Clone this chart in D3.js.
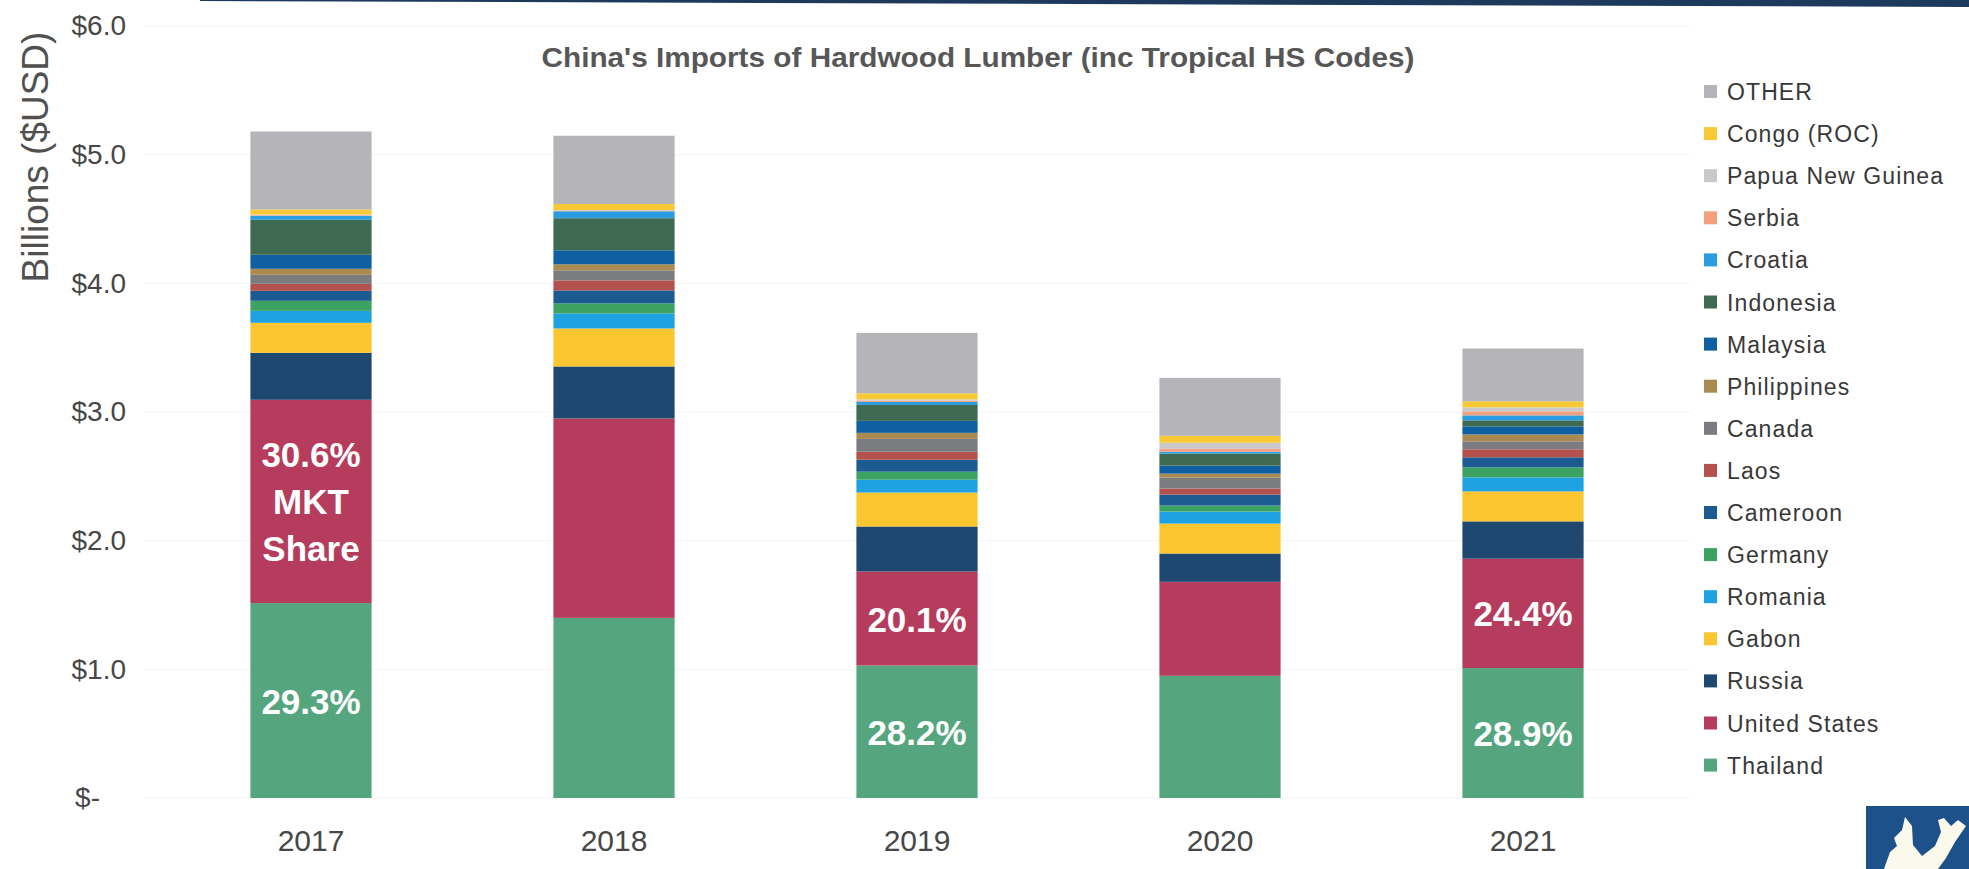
<!DOCTYPE html>
<html lang="en">
  <head>
    <meta charset="utf-8">
    <title>China's Imports of Hardwood Lumber</title>
    <script src="https://d3js.org/d3.v7.min.js"></script>
    <style>
      body { margin: 0; background: #fff; }
      svg { display: block; font-family: "Liberation Sans", Arial, sans-serif; }
    </style>
  </head>
  <body>
    <script>
      // data (billions USD)
      const years = ["2017", "2018", "2019", "2020", "2021"];
      const countries = ["Thailand", "United States", "Russia", "Gabon", "Romania", "Germany",
        "Cameroon", "Laos", "Canada", "Philippines", "Malaysia", "Indonesia", "Croatia",
        "Serbia", "Papua New Guinea", "Congo (ROC)", "OTHER"];

      const thailand    = [1.515, 1.40, 1.03, 0.95, 1.01];
      const unitedStates = [1.58, 1.55, 0.73, 0.73, 0.85];
      const russia      = [0.365, 0.404, 0.35, 0.22, 0.29];
      const gabon       = [0.233, 0.295, 0.264, 0.233, 0.233];
      const romania     = [0.093, 0.117, 0.10, 0.093, 0.109];
      const germany     = [0.078, 0.078, 0.062, 0.047, 0.078];
      const cameroon    = [0.078, 0.101, 0.093, 0.085, 0.078];
      const laos        = [0.054, 0.078, 0.062, 0.047, 0.062];
      const canada      = [0.07, 0.078, 0.10, 0.085, 0.062];
      const philippines = [0.047, 0.047, 0.047, 0.031, 0.054];
      const malaysia    = [0.109, 0.109, 0.093, 0.062, 0.062];
      const indonesia   = [0.272, 0.249, 0.124, 0.093, 0.047];
      const croatia     = [0.031, 0.054, 0.023, 0.015, 0.039];
      const serbia      = [0.005, 0.005, 0.01, 0.023, 0.031];
      const png         = [0.005, 0.005, 0.01, 0.047, 0.031];
      const congo       = [0.039, 0.047, 0.047, 0.054, 0.047];
      const other       = [0.606, 0.53, 0.47, 0.45, 0.41];

      const series = [thailand, unitedStates, russia, gabon, romania, germany, cameroon, laos,
        canada, philippines, malaysia, indonesia, croatia, serbia, png, congo, other];

      const colors = ["#55a67e", "#b53c5c", "#1f4870", "#fcc630", "#1ea2e2", "#3ba262",
        "#1c5a92", "#b4514c", "#7b7c80", "#aa8a50", "#0f60a2", "#3d6a50", "#2a9ce0",
        "#f4a07c", "#c9c9cb", "#f8c935", "#b5b5b9"];

      const usLabels = ["30.6%|MKT|Share", "", "20.1%", "", "24.4%"];
      const thLabels = ["29.3%", "", "28.2%", "", "28.9%"];

      const yTicks = [0, 1, 2, 3, 4, 5, 6];

      const width = 1969, height = 869;

      const rows = years.map((yr, i) => {
        const r = { year: yr };
        countries.forEach((c, k) => r[c] = series[k][i]);
        return r;
      });

      const svg = d3.select("body").append("svg")
          .attr("width", width)
          .attr("height", height);

      // scanned page header band
      svg.append("path")
          .attr("d", "M200,0 L1969,0 L1969,7 L200,1 Z")
          .attr("fill", "#1d3a5c");

      const x = d3.scaleBand()
          .domain(years)
          .range([159.5, 1674.5])
          .paddingInner(0.6)
          .paddingOuter(0.3);

      const y = d3.scaleLinear()
          .domain([0, 6])
          .range([798, 26]);

      const color = d3.scaleOrdinal(countries, colors);

      // faint gridlines
      svg.append("g")
          .selectAll("line")
          .data(yTicks)
          .join("line")
          .attr("x1", 145).attr("x2", 1690)
          .attr("y1", d => y(d)).attr("y2", d => y(d))
          .attr("stroke", "#f3f3f5")
          .attr("stroke-width", 1);

      // y axis labels (accounting style: "$-" sits further left)
      const yAxis = svg.append("g")
          .attr("transform", "translate(126,0)")
          .call(d3.axisLeft(y).tickValues(yTicks).tickSize(0).tickPadding(0)
            .tickFormat(d => d === 0 ? "$-" : "$" + d3.format(".1f")(d)));
      yAxis.select(".domain").remove();
      yAxis.selectAll("text")
          .attr("font-size", 28)
          .attr("font-family", "Liberation Sans, Arial, sans-serif")
          .attr("fill", "#474747")
          .attr("dx", d => d === 0 ? -26 : 0);

      svg.append("text")
          .attr("transform", "translate(48,157) rotate(-90)")
          .attr("text-anchor", "middle")
          .attr("font-size", 37)
          .attr("fill", "#505050")
          .text("Billions ($USD)");

      // title
      svg.append("text")
          .attr("x", 978)
          .attr("y", 67)
          .attr("text-anchor", "middle")
          .attr("font-size", 27)
          .attr("font-weight", "bold")
          .attr("fill", "#575757")
          .attr("textLength", 873)
          .attr("lengthAdjust", "spacingAndGlyphs")
          .text("China's Imports of Hardwood Lumber (inc Tropical HS Codes)");

      // stacked bars
      const stacked = d3.stack().keys(countries)(rows);

      svg.append("g")
          .selectAll("g")
          .data(stacked)
          .join("g")
          .attr("fill", d => color(d.key))
          .selectAll("rect")
          .data(d => d)
          .join("rect")
          .attr("x", d => x(d.data.year))
          .attr("width", x.bandwidth())
          .attr("y", d => y(d[1]))
          .attr("height", d => y(d[0]) - y(d[1]));

      // market share labels
      function shareLabels(layer, labels) {
        const g = svg.append("g");
        layer.forEach((d, i) => {
          if (!labels[i]) return;
          const lines = labels[i].split("|");
          const mid = (y(d[0]) + y(d[1])) / 2;
          const t = g.append("text")
              .attr("text-anchor", "middle")
              .attr("dominant-baseline", "central")
              .attr("font-size", 35)
              .attr("font-weight", "bold")
              .attr("fill", "#fff");
          lines.forEach((ln, j) => {
            t.append("tspan")
                .attr("x", x(d.data.year) + x.bandwidth() / 2)
                .attr("y", mid + (j - (lines.length - 1) / 2) * 47)
                .text(ln);
          });
        });
      }
      shareLabels(stacked[1], usLabels);
      shareLabels(stacked[0], thLabels);

      // x labels
      svg.append("g")
          .selectAll("text")
          .data(years)
          .join("text")
          .attr("x", d => x(d) + x.bandwidth() / 2)
          .attr("y", 851)
          .attr("text-anchor", "middle")
          .attr("font-size", 30)
          .attr("fill", "#474747")
          .text(d => d);

      // legend, top to bottom reversed stack order
      const legendKeys = countries.slice().reverse();
      const legend = svg.append("g")
          .selectAll("g")
          .data(legendKeys)
          .join("g")
          .attr("transform", (d, i) => `translate(1704,${92 + i * 42.1})`);

      legend.append("rect")
          .attr("x", 0).attr("y", -7)
          .attr("width", 13).attr("height", 13)
          .attr("fill", d => color(d));

      legend.append("text")
          .attr("x", 23)
          .attr("dominant-baseline", "central")
          .attr("font-size", 23)
          .attr("letter-spacing", 1.1)
          .attr("fill", "#383838")
          .text(d => d);

      // corner logo
      const logo = svg.append("g");
      logo.append("rect")
          .attr("x", 1866).attr("y", 806)
          .attr("width", 103).attr("height", 63)
          .attr("fill", "#1d5189");
      logo.append("path")
          .attr("d", "M1884,869 L1890,852 L1897,846 L1894,838 L1902,830 L1905,817 L1912,826 L1913,845 L1922,856 L1935,846 L1941,832 L1938,820 L1944,818 L1951,826 L1958,820 L1966,826 L1955,842 L1946,858 L1938,869 Z")
          .attr("fill", "#fbf8ec");
    </script>
  </body>
</html>
